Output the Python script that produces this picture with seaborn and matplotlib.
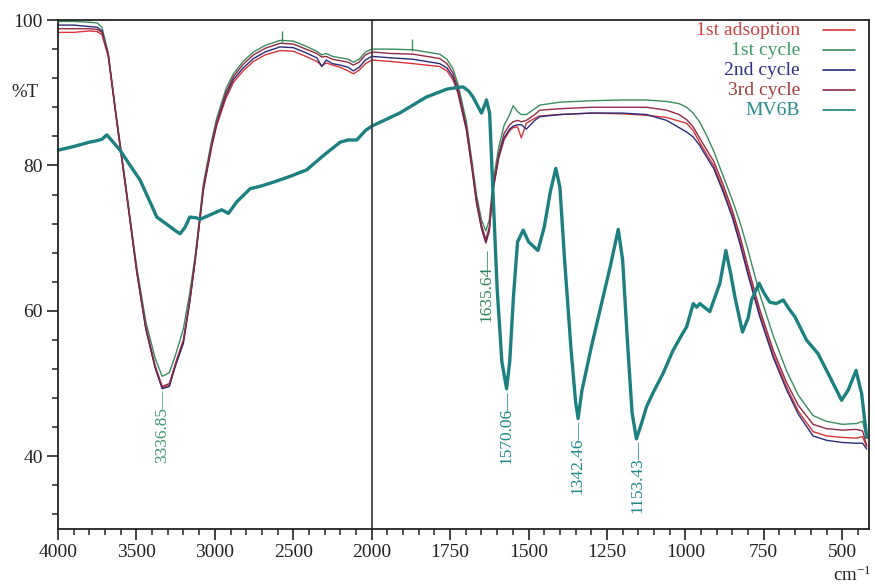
import matplotlib
matplotlib.use("Agg")
import matplotlib.pyplot as plt
import seaborn as sns
import numpy as np
import pandas as pd

# wavenumbers (cm-1) shared by the four adsorption/cycle spectra
cyc_wn = [4000, 3900, 3800, 3750, 3720, 3680, 3626, 3560, 3498, 3440,
          3381, 3336, 3290, 3250, 3201, 3160, 3126, 3073, 3020, 2988,
          2930, 2882, 2820, 2754, 2680, 2584, 2500, 2420, 2350, 2318,
          2290, 2250, 2200, 2150, 2117, 2080, 2040, 2000, 1940, 1868,
          1783, 1760, 1741, 1725, 1698, 1680, 1666, 1650, 1636, 1625,
          1614, 1595, 1578, 1560, 1549, 1535, 1523, 1507, 1480, 1464,
          1400, 1300, 1200, 1124, 1060, 1020, 996, 975, 955, 933,
          910, 880, 850, 826, 800, 763, 720, 678, 640, 593,
          550, 500, 455, 435, 422]

ads1_t = [98.3, 98.3, 98.5, 98.4, 98.0, 95.0, 86.0, 75.5, 65.3, 57.5,
          52.2, 49.4, 49.8, 52.8, 55.8, 61.3, 66.8, 76.6, 82.5, 85.5,
          89.2, 91.4, 93.0, 94.3, 95.2, 95.8, 95.7, 95.0, 94.3, 93.7,
          94.1, 93.8, 93.5, 93.0, 92.6, 93.1, 94.0, 94.5, 94.3, 94.0,
          93.6, 93.0, 91.8, 89.9, 84.8, 79.4, 74.8, 71.3, 69.3, 71.0,
          76.3, 81.0, 83.5, 84.8, 85.2, 85.3, 83.8, 85.8, 86.5, 86.8,
          87.0, 87.2, 87.1, 86.9, 86.6, 86.1, 85.8, 84.8, 83.2, 81.6,
          80.0, 76.8, 73.2, 69.6, 65.3, 59.6, 54.0, 49.6, 46.2, 43.4,
          42.8, 42.6, 42.5, 42.7, 41.3]

cyc1_t = [99.8, 99.8, 99.7, 99.6, 99.0, 95.5, 86.5, 76.0, 66.0, 58.5,
          53.5, 51.0, 51.5, 54.0, 57.5, 62.5, 67.5, 77.5, 83.5, 86.5,
          90.5, 92.6, 94.3, 95.6, 96.5, 97.2, 97.1, 96.4, 95.7, 95.2,
          95.4, 95.0, 94.8, 94.6, 94.2, 94.6, 95.6, 96.0, 96.0, 95.9,
          95.3, 94.6, 93.3, 91.2, 86.0, 80.5, 76.0, 72.5, 71.0, 72.5,
          77.5, 82.5, 85.5, 87.0, 88.2, 87.4, 87.0, 87.0, 87.8, 88.3,
          88.7, 88.9, 89.0, 89.0, 88.8, 88.5, 88.0, 87.2, 86.0, 84.2,
          82.0, 78.6, 75.2, 72.2, 68.3, 62.3, 56.6, 51.8, 48.4, 45.6,
          44.8, 44.4, 44.5, 44.8, 42.5]

cyc2_t = [99.3, 99.3, 99.1, 99.0, 98.5, 95.2, 86.2, 75.6, 65.4, 57.5,
          52.2, 49.3, 49.6, 52.5, 55.5, 61.2, 66.8, 76.8, 82.8, 85.8,
          89.6, 91.8, 93.4, 94.7, 95.6, 96.3, 96.2, 95.5, 94.8, 93.6,
          94.5, 94.0, 93.8, 93.5, 93.0, 93.5, 94.5, 95.0, 94.8, 94.6,
          94.0, 93.4, 92.2, 90.2, 85.0, 79.6, 75.0, 71.5, 69.5, 71.2,
          76.5, 81.2, 83.8, 85.0, 85.4, 85.6, 85.6, 85.0, 86.2, 86.7,
          87.0, 87.2, 87.2, 87.0, 86.2, 85.2, 84.6, 83.9, 82.8, 81.2,
          79.6, 76.4, 72.8, 69.2, 64.9, 59.2, 53.6, 49.2, 45.8, 42.8,
          42.2, 41.9, 41.8, 41.8, 41.0]

cyc3_t = [98.8, 98.8, 98.8, 98.7, 98.3, 95.3, 86.3, 75.8, 65.6, 57.8,
          52.5, 49.6, 50.0, 52.8, 56.0, 61.5, 67.0, 77.0, 83.0, 86.0,
          90.0, 92.2, 93.9, 95.2, 96.1, 96.8, 96.7, 96.0, 95.4, 94.9,
          95.0, 94.6, 94.4, 94.2, 93.8, 94.2, 95.2, 95.6, 95.4, 95.3,
          94.7, 94.0, 92.7, 90.6, 85.4, 80.0, 75.4, 71.8, 69.8, 71.5,
          76.8, 81.6, 84.4, 85.6, 86.0, 86.2, 86.0, 86.2, 87.0, 87.6,
          87.8, 88.0, 88.0, 88.0, 87.6, 87.0, 86.3, 85.3, 83.8, 82.2,
          80.6, 77.4, 73.8, 70.3, 66.0, 60.2, 54.6, 50.2, 47.0, 44.4,
          43.8, 43.6, 43.7, 43.5, 41.5]

# MV6B dye spectrum
mv_wn = [4000, 3900, 3800, 3753, 3720, 3689, 3660, 3605, 3540, 3477,
         3420, 3370, 3300, 3250, 3222, 3190, 3160, 3120, 3094, 3020,
         2956, 2914, 2860, 2775, 2700, 2627, 2520, 2414, 2300, 2201,
         2150, 2095, 2040, 2000, 1911, 1826, 1760, 1730, 1709, 1690,
         1677, 1650, 1638, 1634, 1624, 1615, 1600, 1585, 1570, 1560,
         1548, 1535, 1517, 1500, 1470, 1450, 1430, 1413, 1400, 1385,
         1365, 1350, 1342, 1330, 1300, 1270, 1240, 1214, 1200, 1185,
         1170, 1156, 1140, 1124, 1100, 1071, 1040, 1010, 996, 975,
         964, 954, 922, 890, 871, 855, 842, 818, 800, 789,
         765, 750, 731, 710, 688, 670, 651, 614, 577, 539,
         502, 481, 456, 438, 422]
mv_t = [82.1, 82.6, 83.2, 83.4, 83.6, 84.2, 83.5, 82.1, 80.0, 78.0,
        75.3, 72.9, 71.8, 71.0, 70.6, 71.5, 72.9, 72.8, 72.6, 73.3,
        73.9, 73.4, 75.0, 76.8, 77.2, 77.7, 78.5, 79.4, 81.5, 83.2,
        83.5, 83.5, 84.8, 85.4, 87.2, 89.4, 90.5, 90.7, 90.8, 90.2,
        89.4, 87.2, 88.5, 89.0, 87.2, 78.0, 63.0, 53.0, 49.3, 53.0,
        62.0, 69.5, 71.1, 69.5, 68.3, 71.5, 76.5, 79.6, 77.0, 67.0,
        55.0, 47.5, 45.2, 49.0, 55.0, 60.5, 66.0, 71.2, 67.0, 56.0,
        46.0, 42.4, 44.5, 46.8, 49.0, 51.4, 54.5, 56.8, 57.8, 61.0,
        60.5, 61.0, 59.9, 63.8, 68.3, 65.0, 61.9, 57.1, 59.0, 61.5,
        63.8, 62.5, 61.2, 61.0, 61.5, 60.3, 59.2, 56.0, 54.1, 50.9,
        47.7, 49.1, 51.8, 48.6, 42.6]

# labelled peaks
peak_wn = [3336.85, 1635.64, 1570.06, 1342.46, 1153.43]
peak_t = [49.2, 68.6, 49.0, 45.0, 42.2]
peak_col = ["#3f9a6c", "#2f8358", "#1f8787", "#1f8787", "#1f8787"]

# small cursor marks on the 1st cycle trace
mark_wn = [2570, 1870]
mark_t = [97.7, 96.5]

series = ["1st adsoption", "1st cycle", "2nd cycle", "3rd cycle", "MV6B"]
line_col = ["#d8343a", "#3b8c5e", "#2c2c78", "#922a44", "#1d8080"]
text_col = ["#cc4444", "#3d9a66", "#2e2e88", "#a03c3c", "#2b8c8c"]

sns.set_style("ticks")
plt.rcParams["font.family"] = ["Liberation Serif", "DejaVu Serif"]
plt.rcParams["mathtext.default"] = "regular"

fig = plt.figure(figsize=(8.75, 5.85), dpi=100)
ax = fig.add_axes([0.0663, 0.0957, 0.9267, 0.8701])

cycles = [ads1_t, cyc1_t, cyc2_t, cyc3_t]
for t, c in zip(cycles, line_col[:4]):
    sns.lineplot(x=cyc_wn, y=t, ax=ax, color=c, lw=1.0, sort=False, estimator=None)
sns.lineplot(x=mv_wn, y=mv_t, ax=ax, color=line_col[4], lw=2.4, sort=False, estimator=None)
ax.plot(mark_wn, mark_t, ls="none", marker="|", ms=9, mew=1.0, color=line_col[1])

# expanded scale below 2000 cm-1
def fwd(x):
    x = np.asarray(x, dtype=float)
    return np.where(x > 2000, 2000 + (x - 2000) / 2, x)

def inv(y):
    y = np.asarray(y, dtype=float)
    return np.where(y > 2000, 2000 + (y - 2000) * 2, y)

ax.set_xscale("function", functions=(fwd, inv))
ax.set_xlim(4000, 415)
ax.set_ylim(30, 100)
ax.axvline(2000, color="#444444", lw=1.3)

ax.set_xticks([4000, 3500, 3000, 2500, 2000, 1750, 1500, 1250, 1000, 750, 500])
ax.set_xticks(list(range(3900, 2000, -100)) + list(range(1950, 415, -50)), minor=True)
ax.set_yticks([40, 60, 80, 100])
ax.set_yticks(list(range(32, 101, 4)), minor=True)
ax.set_xlabel("")
ax.set_ylabel("")
ax.tick_params(which="major", direction="out", length=8, width=1.2, labelsize=14,
               colors="#222222", pad=3)
ax.tick_params(which="minor", direction="out", length=4.5, width=1.1, colors="#222222")
for s in ax.spines.values():
    s.set_visible(True)
    s.set_linewidth(1.3)
    s.set_color("#222222")

for w, t, c in zip(peak_wn, peak_t, peak_col):
    ax.text(w, t, f"{w:.2f}\u2014", rotation=90, ha="center", va="top", color=c, fontsize=12.5)

ax.text(-0.041, 0.857, "%T", transform=ax.transAxes, ha="center", va="center",
        fontsize=13.5, color="#222222")
fig.text(833 / 875, 4 / 585, "cm$^{-1}$", ha="left", va="baseline", fontsize=13.5, color="#222222")

# legend: coloured labels with line samples on the right
for i, (lab, tc, lc) in enumerate(zip(series, text_col, line_col)):
    y = 0.980 - i * 0.0393
    ax.text(0.915, y, lab, transform=ax.transAxes, ha="right", va="center",
            color=tc, fontsize=14)
    ax.plot([0.9433, 0.9827], [y, y], transform=ax.transAxes, color=lc, lw=1.2)

fig.savefig("out.png", dpi=100)
